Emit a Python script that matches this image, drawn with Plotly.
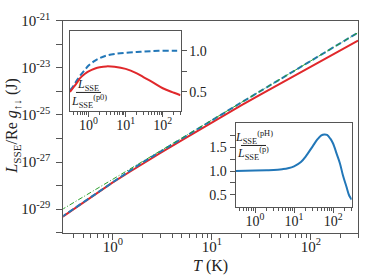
import plotly.graph_objects as go

# ---------------- data ----------------
T_main = [0.3, 0.4, 0.5, 0.7, 1, 1.5, 2, 3, 5, 7, 10, 15, 20, 30, 50, 70, 100, 150, 200, 300]
L_p0 = [9.12e-30, 1.86e-29, 3.24e-29, 7.59e-29, 1.86e-28, 5.13e-28, 1.07e-27, 2.95e-27, 1.05e-26, 2.45e-26,
        6.03e-26, 1.66e-25, 3.47e-25, 9.55e-25, 3.39e-24, 7.94e-24, 1.95e-23, 5.37e-23, 1.12e-22, 3.09e-22]
L_p = [4.47e-30, 1.02e-29, 1.97e-29, 5.37e-29, 1.48e-28, 4.41e-28, 9.64e-28, 2.74e-27, 1.00e-26, 2.37e-26,
       5.86e-26, 1.62e-25, 3.41e-25, 9.44e-25, 3.37e-24, 7.90e-24, 1.94e-23, 5.36e-23, 1.12e-22, 3.09e-22]
L_pH = [4.29e-30, 9.86e-30, 1.91e-29, 5.16e-29, 1.36e-28, 3.97e-28, 8.51e-28, 2.39e-27, 8.47e-27, 1.96e-26,
        4.73e-26, 1.28e-25, 2.58e-25, 6.68e-25, 2.22e-24, 4.92e-24, 1.12e-23, 2.87e-23, 5.66e-23, 1.42e-22]

T_in1 = [0.316, 0.4, 0.5, 0.6, 0.8, 1, 1.5, 2, 3, 5, 10, 20, 30, 50, 100, 200, 300]
ratio_p = [0.52, 0.58, 0.65, 0.70, 0.77, 0.82, 0.88, 0.91, 0.94, 0.96, 0.975, 0.985, 0.99, 0.995, 1.0, 1.0, 1.0]
ratio_pH = [0.50, 0.56, 0.62, 0.67, 0.72, 0.75, 0.785, 0.80, 0.81, 0.805, 0.78, 0.725, 0.68, 0.625, 0.545, 0.49, 0.46]

T_in2 = [0.316, 1, 2, 3, 5, 7, 10, 15, 20, 30, 40, 50, 60, 70, 85, 100, 125, 150, 180, 220, 260, 300]
ratio_pH_p = [1.00, 1.01, 1.015, 1.02, 1.04, 1.06, 1.10, 1.19, 1.31, 1.52, 1.67, 1.75, 1.77, 1.76, 1.68, 1.58,
              1.35, 1.16, 0.90, 0.67, 0.48, 0.40]

x_tickvals = [1, 10, 100]
x_ticktext = ["10<sup>0</sup>", "10<sup>1</sup>", "10<sup>2</sup>"]
y_tickvals = [1e-29, 1e-27, 1e-25, 1e-23, 1e-21]
y_ticktext = ["10<sup>-29</sup>", "10<sup>-27</sup>", "10<sup>-25</sup>", "10<sup>-23</sup>", "10<sup>-21</sup>"]
y_minor = [1e-30, 1e-28, 1e-26, 1e-24, 1e-22]

# ---------------- style ----------------
W, H = 374, 280
FONT = "Liberation Serif"
AX = "#555555"
TXT = "#222222"
RED = "#e0282b"
BLUE = "#2277b8"
GREEN = "#2ca02c"


def fx(p):
    return p / W


def fy(p):
    return 1 - p / H


log_minor = [m * 10 ** e for e in range(-1, 3) for m in range(2, 10) if 0.3 <= m * 10 ** e <= 300]

fig = go.Figure()

# main
fig.add_trace(go.Scatter(x=T_main, y=L_pH, mode="lines", line=dict(color=RED, width=2), xaxis="x", yaxis="y"))
fig.add_trace(go.Scatter(x=T_main, y=L_p, mode="lines", line=dict(color=BLUE, width=2, dash="6px,3px"),
                         xaxis="x", yaxis="y"))
fig.add_trace(go.Scatter(x=T_main, y=L_p0, mode="lines", line=dict(color=GREEN, width=1, dash="5px,2px,1px,2px"),
                         xaxis="x", yaxis="y"))
# inset 1
fig.add_trace(go.Scatter(x=T_in1, y=ratio_p, mode="lines", line=dict(color=BLUE, width=2, dash="6px,3px", shape="spline"),
                         xaxis="x2", yaxis="y2"))
fig.add_trace(go.Scatter(x=T_in1, y=ratio_pH, mode="lines", line=dict(color=RED, width=2, shape="spline"),
                         xaxis="x2", yaxis="y2"))
# inset 2
fig.add_trace(go.Scatter(x=T_in2, y=ratio_pH_p, mode="lines", line=dict(color=BLUE, width=2, shape="spline"),
                         xaxis="x3", yaxis="y3"))

common = dict(showline=True, linecolor=AX, linewidth=1, mirror=True, showgrid=False, zeroline=False,
              ticks="outside", tickcolor=AX, tickwidth=1)

tickfont = dict(family=FONT, size=15, color=TXT)
tickfont_in = dict(family=FONT, size=14, color=TXT)

fig.update_layout(
    width=W, height=H, margin=dict(l=0, r=0, t=0, b=0),
    paper_bgcolor="white", plot_bgcolor="rgba(0,0,0,0)", showlegend=False, hovermode=False,
    font=dict(family=FONT, size=13, color=TXT),
    xaxis=dict(type="log", range=[-0.5, 2.477], domain=[fx(63.3), fx(358)], anchor="y",
               tickvals=x_tickvals, ticktext=x_ticktext, ticklen=6, tickfont=tickfont, ticklabelstandoff=-6,
               minor=dict(tickvals=log_minor, ticks="outside", ticklen=4, tickcolor=AX), **common),
    yaxis=dict(type="log", range=[-30, -21], domain=[fy(231), fy(11)], anchor="x",
               tickvals=y_tickvals, ticktext=y_ticktext, ticklen=6, tickfont=tickfont, ticklabelstandoff=3,
               minor=dict(tickvals=y_minor, ticks="outside", ticklen=6, tickcolor=AX), **common),
    xaxis2=dict(type="log", range=[-0.5, 2.477], domain=[fx(70), fx(180.5)], anchor="y2",
                tickvals=x_tickvals, ticktext=x_ticktext, ticklen=5, tickfont=tickfont_in, ticklabelstandoff=-4,
                minor=dict(tickvals=log_minor, ticks="outside", ticklen=3, tickcolor=AX), **common),
    yaxis2=dict(range=[0.266, 1.24], domain=[fy(105), fy(21.7)], anchor="x2", side="right",
                tickvals=[0.5, 1.0], ticktext=["0.5", "1.0"], ticklen=5, tickfont=tickfont_in,
                minor=dict(tickvals=[0.75, 1.25], ticks="outside", ticklen=5, tickcolor=AX), **common),
    xaxis3=dict(type="log", range=[-0.5, 2.477], domain=[fx(235.5), fx(351.7)], anchor="y3",
                tickvals=x_tickvals, ticktext=x_ticktext, ticklen=5, tickfont=tickfont_in, ticklabelstandoff=-4,
                minor=dict(tickvals=log_minor, ticks="outside", ticklen=3, tickcolor=AX), **common),
    yaxis3=dict(range=[0.25, 2.02], domain=[fy(204), fy(116.7)], anchor="x3",
                tickvals=[0.5, 1.0, 1.5], ticktext=["0.5", "1.0", "1.5"], ticklen=5, tickfont=tickfont_in,
                minor=dict(tickvals=[0.75, 1.25, 1.75], ticks="outside", ticklen=5, tickcolor=AX), **common),
)


def A(text, x, y, size, xa="center", ya="middle", angle=0):
    return dict(text=text, x=fx(x), y=fy(y), xref="paper", yref="paper", xanchor=xa, yanchor=ya,
                textangle=angle, showarrow=False, font=dict(family=FONT, size=size, color=TXT))


ann = [
    A("<i>T</i> (K)", 210.5, 265, 16),
    A("<i>L</i><sub>SSE</sub>/Re <i>g</i><sub>↑↓</sub> (J)", 13, 121, 16, angle=-90),
    # inset 1 fraction
    A("<i>L</i><sub>SSE</sub>", 88, 78, 12),
    A("<i>L</i><sub>SSE</sub><sup>(p0)</sup>", 89, 95, 12),
    # inset 2 fraction
    A("<i>L</i><sub>SSE</sub><sup>(pH)</sup>", 254, 132, 12),
    A("<i>L</i><sub>SSE</sub><sup>(p)</sup>", 253, 149, 12),
]
fig.update_layout(annotations=ann)

fig.update_layout(shapes=[
    dict(type="line", xref="paper", yref="paper", x0=fx(76), x1=fx(101), y0=fy(85.5), y1=fy(85.5),
         line=dict(color=TXT, width=1)),
    dict(type="line", xref="paper", yref="paper", x0=fx(241), x1=fx(266), y0=fy(140.5), y1=fy(140.5),
         line=dict(color=TXT, width=1)),
])

fig.write_html("out.html", config={"displayModeBar": False, "staticPlot": True},
               post_script="document.body.style.margin='0px';")
